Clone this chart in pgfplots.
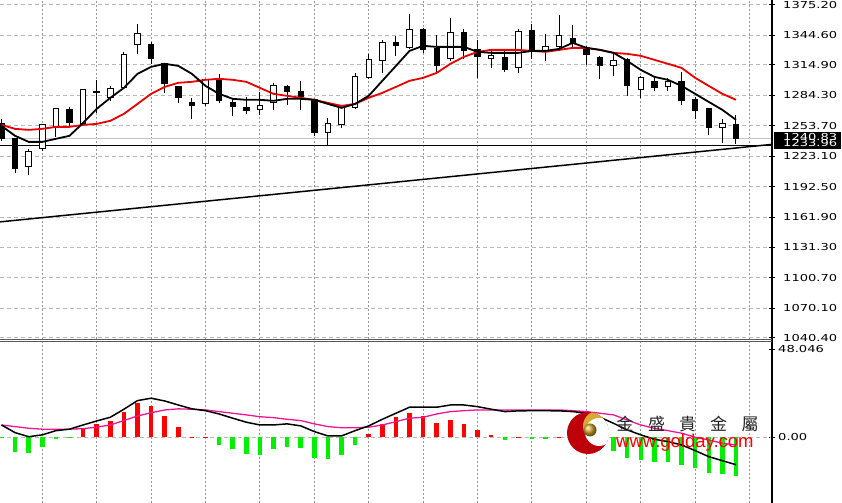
\documentclass[border=0pt]{standalone}
\usepackage{pgfplots}
\pgfplotsset{compat=1.18}
\usepackage{pgfplotstable}
\usepackage{fontspec}
\setmainfont{DejaVu Sans}
\newfontfamily\axfont[FakeStretch=1.36]{DejaVu Sans}
\newfontfamily\cjk{Noto Sans CJK TC}
\newfontfamily\webfont{Liberation Sans}

\definecolor{gridc}{RGB}{185,185,185}
\definecolor{vgridc}{RGB}{150,150,150}
\definecolor{mared}{RGB}{235,0,0}
\definecolor{sigpink}{RGB}{240,20,150}
\definecolor{histred}{RGB}{255,0,0}
\definecolor{histgreen}{RGB}{0,240,0}
\definecolor{logored}{RGB}{190,0,10}
\definecolor{logogold}{RGB}{215,170,50}

% candles: index open high low close
\pgfplotstableread{
i o h l c
0 1255.5 1260.6 1238.4 1240.5
1 1240.5 1241.5 1206.3 1210.3
2 1212.3 1230.4 1204.3 1227.4
3 1230.4 1255.5 1228.4 1254.5
4 1251.5 1271.6 1242.5 1270.6
5 1269.6 1272.6 1253.5 1256.5
6 1255.5 1290.7 1254.5 1289.7
7 1287.7 1299.8 1266.6 1286.7
8 1281.7 1293.7 1278.7 1290.7
9 1291.7 1327.9 1290.7 1324.9
10 1335.0 1356.1 1325.9 1346.0
11 1335.0 1338.0 1315.9 1320.9
12 1315.9 1316.9 1286.7 1295.7
13 1292.7 1293.7 1276.6 1281.7
14 1276.6 1281.7 1260.6 1273.6
15 1275.6 1300.8 1273.6 1299.8
16 1299.8 1305.8 1276.6 1278.7
17 1276.6 1280.7 1263.6 1272.6
18 1271.6 1282.7 1265.6 1268.6
19 1269.6 1287.7 1264.6 1273.6
20 1276.6 1296.8 1269.6 1293.7
21 1292.7 1294.7 1274.6 1287.7
22 1287.7 1298.8 1269.6 1282.7
23 1279.7 1280.7 1243.5 1246.5
24 1246.5 1261.6 1234.4 1255.5
25 1254.5 1274.6 1251.5 1271.6
26 1271.6 1306.8 1270.6 1302.8
27 1301.8 1325.9 1300.8 1319.9
28 1318.9 1340.0 1306.8 1337.0
29 1337.0 1344.0 1323.9 1334.0
30 1331.9 1366.1 1330.9 1350.0
31 1350.0 1352.1 1326.9 1329.9
32 1330.9 1345.0 1306.8 1313.8
33 1320.9 1362.1 1318.9 1347.0
34 1347.0 1351.0 1320.9 1328.9
35 1329.9 1340.0 1301.8 1322.9
36 1320.9 1329.9 1311.8 1323.9
37 1321.9 1328.9 1307.8 1309.8
38 1311.8 1351.0 1306.8 1348.0
39 1349.0 1356.1 1320.9 1328.9
40 1328.9 1346.0 1318.9 1332.9
41 1332.9 1365.1 1328.9 1344.0
42 1341.0 1355.1 1331.9 1336.0
43 1331.9 1334.0 1314.9 1324.9
44 1321.9 1323.9 1300.8 1313.8
45 1313.8 1326.9 1303.8 1318.9
46 1319.9 1321.9 1283.7 1293.7
47 1289.7 1303.8 1281.7 1301.8
48 1297.8 1303.8 1288.7 1291.7
49 1292.7 1301.8 1288.7 1297.8
50 1297.8 1307.8 1274.6 1278.7
51 1279.7 1282.7 1260.6 1268.6
52 1270.6 1271.6 1244.5 1251.5
53 1251.5 1260.6 1236.4 1255.5
54 1254.5 1264.6 1235.4 1240.8
}\candles

% moving averages: fast (black), slow (red)
\pgfplotstableread{
i fast slow
0 1253.5 1254.5
1 1243.5 1250.5
2 1237.4 1249.5
3 1237.4 1250.5
4 1240.5 1252.5
5 1243.5 1252.5
6 1256.5 1254.5
7 1270.6 1255.5
8 1281.7 1258.6
9 1291.7 1265.6
10 1305.8 1275.6
11 1312.8 1285.7
12 1315.9 1292.7
13 1313.8 1296.8
14 1305.8 1297.8
15 1293.7 1299.8
16 1285.7 1300.8
17 1280.7 1299.8
18 1279.7 1297.8
19 1279.7 1291.7
20 1278.7 1285.7
21 1280.7 1283.7
22 1280.7 1281.7
23 1279.7 1279.7
24 1275.6 1276.6
25 1271.6 1273.6
26 1275.6 1275.6
27 1283.7 1281.7
28 1298.8 1286.7
29 1313.8 1292.7
30 1328.9 1298.8
31 1334.0 1301.8
32 1332.9 1306.8
33 1332.9 1315.9
34 1332.9 1322.9
35 1327.9 1327.9
36 1326.9 1329.9
37 1326.9 1329.9
38 1326.9 1329.9
39 1328.9 1328.9
40 1328.9 1327.9
41 1330.9 1329.9
42 1337.0 1331.9
43 1331.9 1331.9
44 1329.9 1329.9
45 1326.9 1326.9
46 1318.9 1325.9
47 1309.8 1323.9
48 1302.8 1319.9
49 1299.8 1315.9
50 1293.7 1311.8
51 1285.7 1301.8
52 1277.6 1293.7
53 1269.6 1285.7
54 1259.6 1279.7
}\mas

% MACD panel: histogram, main line, signal line
\pgfplotstableread{
i hist macd sig
0 -0.55 6.7 6.7
1 -7.8 2.5 5.8
2 -8.7 0.3 4.9
3 -5.6 1.3 4.4
4 -0.8 3.6 4.4
5 -0.55 4.4 4.4
6 4.4 6.7 4.7
7 7.1 8.9 5.5
8 8.6 10.9 6.7
9 14.0 15.3 9.1
10 18.9 20.0 11.6
11 17.1 21.3 13.4
12 11.8 19.8 14.9
13 5.5 17.6 15.5
14 0.4 15.5 15.3
15 0.4 14.5 14.9
16 -4.2 12.7 14.0
17 -6.6 10.4 13.1
18 -9.3 8.2 12.2
19 -9.7 6.7 11.2
20 -6.6 6.7 10.7
21 -5.5 7.3 9.8
22 -6.0 6.2 9.1
23 -11.1 3.1 7.3
24 -11.8 0.7 5.8
25 -9.7 0.7 5.2
26 -4.2 3.6 5.2
27 1.8 6.2 5.5
28 7.3 9.8 6.7
29 10.8 13.1 8.5
30 13.5 16.4 10.4
31 11.6 16.4 10.9
32 8.0 16.4 12.7
33 9.4 17.6 14.0
34 7.1 17.6 14.5
35 4.0 16.7 14.9
36 1.3 15.3 14.9
37 -1.5 14.0 14.9
38 0.4 14.4 14.9
39 -1.1 14.5 14.9
40 -1.1 14.5 14.9
41 0.3 14.4 14.9
42 -0.55 14.0 14.5
43 -1.6 13.1 14.0
44 -4.2 10.9 13.1
45 -7.3 7.6 12.2
46 -11.5 4.0 9.4
47 -12.4 1.3 6.7
48 -13.3 -1.1 4.9
49 -13.3 -2.4 3.6
50 -15.1 -4.2 2.2
51 -16.9 -7.3 0.0
52 -19.7 -10.6 -1.5
53 -20.0 -12.8 -3.3
54 -21.1 -15.0 -4.2
}\macdtab

\tikzset{
  vgrid/.style={draw=vgridc, line width=1bp, dash pattern=on 2bp off 2bp},
  hgrid/.style={draw=gridc, line width=0.8bp, dash pattern=on 4bp off 3bp},
}
\pgfplotsset{
  chartpanel/.style={
    width=772bp, scale only axis, anchor=south west,
    xmin=-0.11, xmax=56.65,
    axis line style={draw=none},
    xtick=\empty,
    ytick pos=right, yticklabel pos=right,
    major tick length=6bp, tick align=center,
    tick style={black, line width=1bp},
    yticklabel style={font=\axfont\fontsize{9.6bp}{10bp}\selectfont, anchor=west, inner sep=0pt},
  },
}

\begin{document}
\begin{tikzpicture}[x=1bp,y=1bp]
\path[use as bounding box] (0,0) rectangle (842,503);

% vertical grid, one dotted line every four bars (bar i sits at x = 1.5 + 13.6 i)
\foreach \g in {3,7,11,15,19,23,27,31,35,39,43,47,51,55}{
  \pgfmathsetmacro\gx{1.5+13.6*\g}
  \draw[vgrid] (\gx,0) -- (\gx,503);
}

% price panel
\begin{axis}[chartpanel,
  at={(0,163)}, height=340bp,
  ymin=1037.4, ymax=1379.2,
  ytick={1040.4,1070.1,1100.7,1131.3,1161.9,1192.5,1223.1,1253.7,1284.3,1314.9,1344.6,1375.2},
  yticklabels={1040.40,1070.10,1100.70,1131.30,1161.90,1192.50,1223.10,1253.70,1284.30,1314.90,1344.60,1375.20},
  yticklabel style={xshift=8bp},
  ymajorgrids, grid style=hgrid,
]
\addplot[gray!45, line width=1bp] coordinates {(-0.11,1240.83) (56.65,1240.83)};
\addplot[black, line width=1.4bp] coordinates {(-0.11,1233.96) (56.65,1233.96)};
\addplot[black, line width=1.5bp] coordinates {(-0.11,1157.0) (56.65,1234.9)};

\pgfplotstablegetrowsof{\candles}
\pgfmathtruncatemacro{\lastrow}{\pgfplotsretval-1}
\pgfplotsforeachungrouped \r in {0,...,\lastrow}{%
  \pgfplotstablegetelem{\r}{i}\of\candles \let\ci\pgfplotsretval
  \pgfplotstablegetelem{\r}{o}\of\candles \let\co\pgfplotsretval
  \pgfplotstablegetelem{\r}{h}\of\candles \let\chh\pgfplotsretval
  \pgfplotstablegetelem{\r}{l}\of\candles \let\cl\pgfplotsretval
  \pgfplotstablegetelem{\r}{c}\of\candles \let\cc\pgfplotsretval
  \pgfmathsetmacro\xa{\ci-0.2}%
  \pgfmathsetmacro\xb{\ci+0.2}%
  \ifdim\cc pt<\co pt \def\bodyfill{black}\else\def\bodyfill{white}\fi
  \edef\doit{%
    \noexpand\addplot[black, line width=1bp, forget plot] coordinates {(\ci,\cl) (\ci,\chh)};
    \noexpand\addplot[draw=black, fill=\bodyfill, line width=1bp, forget plot]
      coordinates {(\xa,\co) (\xb,\co) (\xb,\cc) (\xa,\cc)} -- cycle;
  }\doit
}

\addplot[mared, line width=1.8bp] table[x=i, y=slow] {\mas};
\addplot[black, line width=1.8bp] table[x=i, y=fast] {\mas};
\end{axis}

% MACD panel
\begin{axis}[chartpanel,
  at={(0,0)}, height=161bp,
  ymin=-35.9, ymax=52.0,
  ytick={0,48.046}, yticklabels={0.00,48.046},
  yticklabel style={xshift=3bp},
]
\draw[hgrid] (axis cs:-0.11,0) -- (axis cs:56.65,0);
\addplot[ycomb, histred, line width=4.5bp, restrict y to domain=0:100] table[x=i, y=hist] {\macdtab};
\addplot[ycomb, histgreen, line width=4.5bp, restrict y to domain=-100:0] table[x=i, y=hist] {\macdtab};
\addplot[sigpink, line width=1.3bp] table[x=i, y=sig] {\macdtab};
\addplot[black, line width=1.5bp] table[x=i, y=macd] {\macdtab};
\end{axis}

% frame: right scale line and panel separator
\draw[black, line width=1.3bp] (772,0) -- (772,503);
\draw[gray!70!black, line width=1bp] (0,163) -- (772,163);
\draw[gray!70!black, line width=1bp] (0,161) -- (772,161);

% current price boxes
\fill[black] (774,354) rectangle (841,371);
\begin{scope}
\clip (774,363.5) rectangle (841,371);
\node[white, anchor=west, inner sep=0pt, font=\axfont\fontsize{9.6bp}{10bp}\selectfont] at (783,366) {1240.83};
\end{scope}
\node[white, anchor=west, inner sep=0pt, font=\axfont\fontsize{9.6bp}{10bp}\selectfont] at (783,359.5) {1233.96};

% watermark
\begin{scope}
\clip (588,70) circle (21);
\fill[logored] (588,70) circle (21);
\fill[logogold] (598,77) circle (15);
\fill[white] (599,71) circle (14);
\end{scope}
\shade[ball color=logogold] (590,73) circle (6.5);
\foreach \xc/\ch in {625/金,656.5/盛,687.5/貴,718.5/金,750/屬}{
  \node[black!85, inner sep=0pt, font=\cjk\fontsize{17bp}{18bp}\selectfont] at (\xc,79) {\ch};
}
\node[red, anchor=base west, inner sep=0pt, font=\webfont\fontsize{18.5bp}{19bp}\selectfont] at (616,55) {www.golday.com};
\end{tikzpicture}
\end{document}
